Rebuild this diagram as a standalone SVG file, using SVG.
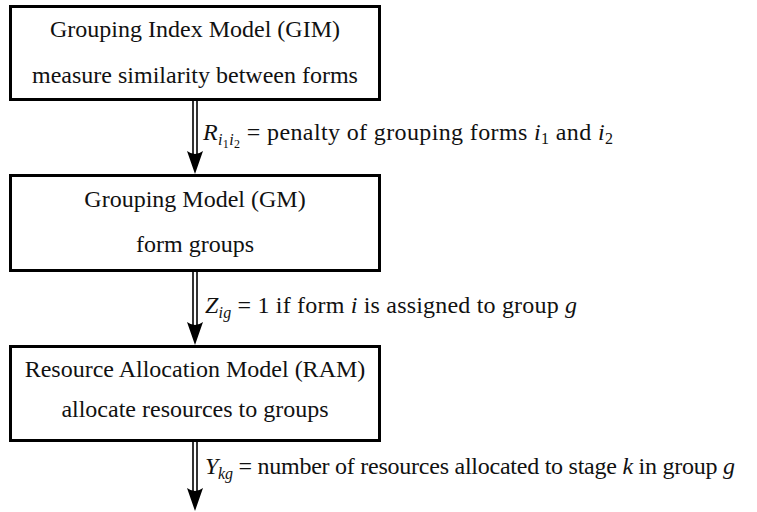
<svg xmlns="http://www.w3.org/2000/svg" width="757" height="512" viewBox="0 0 757 512">
<defs>
<style>
.box{fill:#fff;stroke:#000;stroke-width:3}
text{font-family:"Liberation Serif","Times New Roman",serif;fill:#111}
.t{font-size:24px;text-anchor:middle}
.l{font-size:24px}
.m{font-style:italic}
.s{font-size:16px}
.ss{font-size:12px}
.shaft{stroke:#000;stroke-width:1.6;fill:none}
.head{fill:#000}
</style>
</defs>
<rect width="757" height="512" fill="#fff"/>
<g id="connectors">
  <g id="c1">
    <line class="shaft" x1="193" y1="100" x2="193" y2="158"/>
    <line class="shaft" x1="197" y1="100" x2="197" y2="158"/>
    <path class="head" d="M195,174 L187,151 Q195,157 203,151 Z"/>
  </g>
  <g id="c2">
    <line class="shaft" x1="193" y1="271" x2="193" y2="328"/>
    <line class="shaft" x1="197" y1="271" x2="197" y2="328"/>
    <path class="head" d="M195,345 L187,322 Q195,328 203,322 Z"/>
  </g>
  <g id="c3">
    <line class="shaft" x1="193" y1="441" x2="193" y2="494"/>
    <line class="shaft" x1="197" y1="441" x2="197" y2="494"/>
    <path class="head" d="M195,511 L187,488 Q195,494 203,488 Z"/>
  </g>
</g>
<g id="gim">
  <rect class="box" x="10.5" y="6.5" width="369" height="93"/>
  <text class="t" x="195" y="37">Grouping Index Model (GIM)</text>
  <text class="t" x="195" y="83">measure similarity between forms</text>
</g>
<g id="gm">
  <rect class="box" x="10.5" y="175.5" width="369" height="95"/>
  <text class="t" x="195" y="207">Grouping Model (GM)</text>
  <text class="t" x="195" y="252">form groups</text>
</g>
<g id="ram">
  <rect class="box" x="10.5" y="346.5" width="369" height="94"/>
  <text class="t" x="195" y="377">Resource Allocation Model (RAM)</text>
  <text class="t" x="195" y="417">allocate resources to groups</text>
</g>
<g id="labels">
  <text class="l" x="203" y="140" textLength="410" lengthAdjust="spacing"><tspan class="m">R</tspan><tspan class="m s" dy="5">i</tspan><tspan class="ss" dy="3">1</tspan><tspan class="m s" dy="-3">i</tspan><tspan class="ss" dy="3">2</tspan><tspan dy="-8"> = penalty of grouping forms </tspan><tspan class="m">i</tspan><tspan class="s" dy="4">1</tspan><tspan dy="-4"> and </tspan><tspan class="m">i</tspan><tspan class="s" dy="4">2</tspan></text>
  <text class="l" x="205" y="313" textLength="372" lengthAdjust="spacing"><tspan class="m">Z</tspan><tspan class="m s" dy="5">ig</tspan><tspan dy="-5"> = 1 if form </tspan><tspan class="m">i</tspan><tspan> is assigned to group </tspan><tspan class="m">g</tspan></text>
  <text class="l" x="205" y="474" textLength="530" lengthAdjust="spacing"><tspan class="m">Y</tspan><tspan class="m s" dy="5">kg</tspan><tspan dy="-5"> = number of resources allocated to stage </tspan><tspan class="m">k</tspan><tspan> in group </tspan><tspan class="m">g</tspan></text>
</g>
</svg>
